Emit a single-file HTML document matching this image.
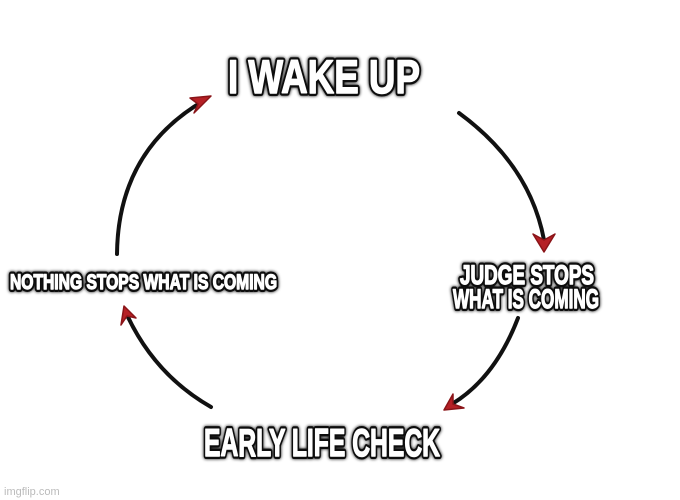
<!DOCTYPE html>
<html><head><meta charset="utf-8"><style>
html,body{margin:0;padding:0;background:#fff;}
svg{display:block}
.t{font-family:"Liberation Sans Narrow","Liberation Sans",sans-serif;font-weight:bold;fill:#fff;stroke-linejoin:round}
.o{stroke:#111;stroke-width:6;filter:url(#g)}
.w{stroke:#fff;stroke-width:1.4}
</style></head><body>
<svg width="680" height="500" viewBox="0 0 680 500" xmlns="http://www.w3.org/2000/svg">
<defs>
<filter id="g" x="-10%" y="-30%" width="120%" height="160%">
<feGaussianBlur in="SourceAlpha" stdDeviation="1.5" result="b"/>
<feMerge><feMergeNode in="b"/><feMergeNode in="SourceGraphic"/></feMerge>
</filter>
</defs>
<g fill="none" stroke="#111" stroke-width="4" stroke-linecap="round">
<path d="M117 254 Q118 150 205 100"/>
<path d="M459 113 Q530 165 544 240"/>
<path d="M518 318 Q495 378 452 404"/>
<path d="M211 407 Q155 375 127 315"/>
</g>
<g fill="#b52025" stroke="#8a1418" stroke-width="1.5" stroke-linejoin="round">
<path d="M211 96 L190 98 L198 104 L194 113 Z"/>
<path d="M544 252 L533 234 L544 240 L555 234 Z"/>
<path d="M444 410 L453 394 L453 404 L464 408 Z"/>
<path d="M124 306 L121 325 L127 316 L136 318 Z"/>
</g>
<g class="t o">
<text x="228" y="93" font-size="47" textLength="192" lengthAdjust="spacingAndGlyphs">I WAKE UP</text>
<text x="10" y="289" font-size="21" textLength="267" lengthAdjust="spacingAndGlyphs">NOTHING STOPS WHAT IS COMING</text>
<text x="460" y="284" font-size="27" textLength="134" lengthAdjust="spacingAndGlyphs">JUDGE STOPS</text>
<text x="453" y="308" font-size="27" textLength="146" lengthAdjust="spacingAndGlyphs">WHAT IS COMING</text>
<text x="204" y="456" font-size="39" textLength="236" lengthAdjust="spacingAndGlyphs">EARLY LIFE CHECK</text>
</g>
<g class="t w">
<text x="228" y="93" font-size="47" textLength="192" lengthAdjust="spacingAndGlyphs">I WAKE UP</text>
<text x="10" y="289" font-size="21" textLength="267" lengthAdjust="spacingAndGlyphs">NOTHING STOPS WHAT IS COMING</text>
<text x="460" y="284" font-size="27" textLength="134" lengthAdjust="spacingAndGlyphs">JUDGE STOPS</text>
<text x="453" y="308" font-size="27" textLength="146" lengthAdjust="spacingAndGlyphs">WHAT IS COMING</text>
<text x="204" y="456" font-size="39" textLength="236" lengthAdjust="spacingAndGlyphs">EARLY LIFE CHECK</text>
</g>
<text x="4" y="495" font-family="Liberation Sans,sans-serif" font-size="11" fill="#bbb">imgflip.com</text>
</svg>
</body></html>
